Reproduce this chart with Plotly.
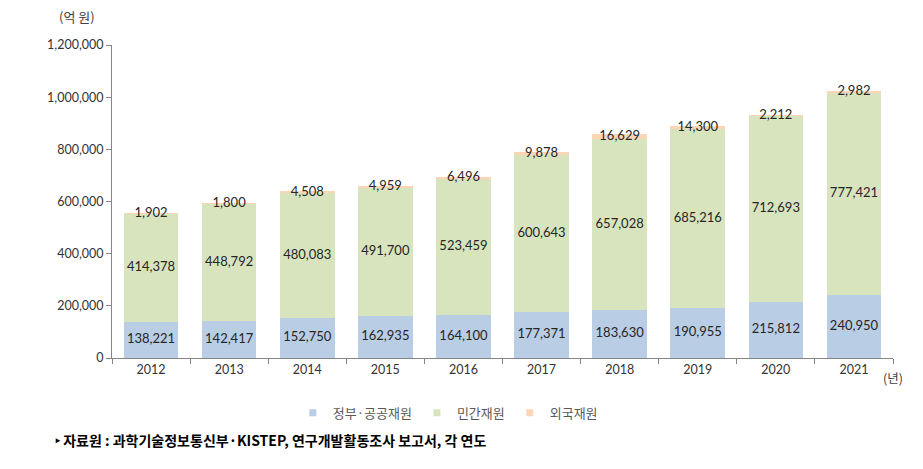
import plotly.graph_objects as go

years = ["2012", "2013", "2014", "2015", "2016", "2017", "2018", "2019", "2020", "2021"]
gov = [138221, 142417, 152750, 162935, 164100, 177371, 183630, 190955, 215812, 240950]
private = [414378, 448792, 480083, 491700, 523459, 600643, 657028, 685216, 712693, 777421]
foreign = [1902, 1800, 4508, 4959, 6496, 9878, 16629, 14300, 2212, 2982]
series_names = ["정부·공공재원", "민간재원", "외국재원"]
y_ticks = [0, 200000, 400000, 600000, 800000, 1000000, 1200000]

colors = ["#b9cde5", "#d7e4bd", "#fcd5b5"]
num_font = dict(family="Lato, Noto Sans CJK KR", size=13, color="#262626")

fig = go.Figure()
for name, vals, c in zip(series_names, [gov, private, foreign], colors):
    fig.add_trace(go.Bar(x=years, y=vals, name=name, marker=dict(color=c, line=dict(width=0)),
                         showlegend=False, hoverinfo="skip"))
    fig.add_trace(go.Scatter(x=[None], y=[None], mode="markers", name=name,
                             marker=dict(symbol="square", size=7, color=c), hoverinfo="skip"))

fmt = lambda v: f"{v:,}"
gov_mid = [g / 2 for g in gov]
priv_mid = [g + p / 2 for g, p in zip(gov, private)]
for_mid = [g + p + f / 2 for g, p, f in zip(gov, private, foreign)]
for ys, vals in [(gov_mid, gov), (priv_mid, private), (for_mid, foreign)]:
    fig.add_trace(go.Scatter(x=years, y=ys, mode="text", text=[fmt(v) for v in vals],
                             textposition="middle center", textfont=num_font,
                             showlegend=False, hoverinfo="skip"))

fig.update_layout(
    barmode="stack",
    bargap=0.3,
    width=923, height=469,
    margin=dict(l=104, r=38, t=37, b=119),
    plot_bgcolor="white", paper_bgcolor="white",
    font=dict(family="Noto Sans CJK KR, Lato", size=12, color="#404040"),
    showlegend=True,
    legend=dict(orientation="h", x=0.43, xanchor="center", y=-0.175, yanchor="middle",
                font=dict(family="Noto Sans CJK KR", size=13, color="#595959"),
                itemwidth=30, tracegroupgap=0, traceorder="normal"),
    xaxis=dict(type="category", showline=True, linecolor="#868686", linewidth=1,
               ticks="outside", tickson="boundaries", ticklen=5, tickcolor="#868686",
               tickfont=dict(family="Lato", size=12.5, color="#333333"), showgrid=False),
    yaxis=dict(range=[0, 1200000], tickvals=y_ticks, tickformat=",d", showline=True,
               linecolor="#868686", linewidth=1, ticks="outside", ticklen=5, tickcolor="#868686",
               tickfont=dict(family="Lato", size=12.5, color="#333333"), showgrid=False,
               zeroline=False),
    annotations=[
        dict(text="(억 원)", xref="paper", yref="paper", x=-0.045, y=1.092, showarrow=False,
             xanchor="center", yanchor="middle",
             font=dict(family="Noto Sans CJK KR", size=13, color="#404040")),
        dict(text="(년)", xref="paper", yref="paper", x=1.0, y=-0.062, showarrow=False,
             xanchor="center", yanchor="middle",
             font=dict(family="Noto Sans CJK KR", size=12.5, color="#404040")),
        dict(text="<b>‣ 자료원 : 과학기술정보통신부·KISTEP, 연구개발활동조사 보고서, 각 연도</b>",
             xref="paper", yref="paper", x=-0.075, y=-0.262, showarrow=False,
             xanchor="left", yanchor="middle",
             font=dict(family="Noto Sans CJK KR", size=14, color="#000000")),
    ],
)

fig.write_html("out.html")
